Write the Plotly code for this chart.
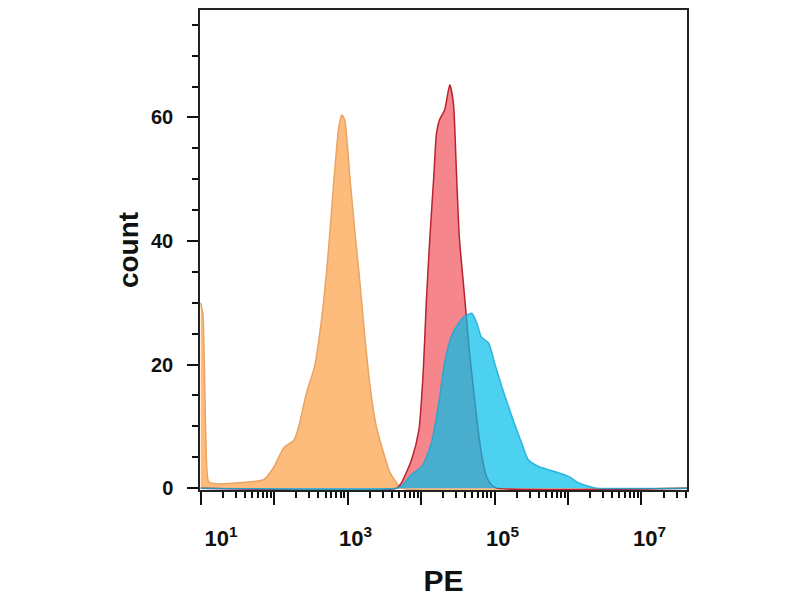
import plotly.graph_objects as go

# PE intensity as log10 exponent, and count per bin
orange_log = [1.00, 1.03, 1.07, 1.11, 1.22, 1.56, 1.86, 1.99, 2.13, 2.27, 2.33, 2.44, 2.55, 2.65,
              2.74, 2.81, 2.88, 2.92, 2.96, 3.03, 3.10, 3.16, 3.23, 3.30, 3.39, 3.49, 3.57, 3.67,
              3.73, 7.62]
orange_cnt = [30, 28, 8, 1.0, 0.7, 0.9, 1.4, 3.3, 6.5, 7.8, 9.8, 15.4, 19.7, 27.8,
              38.6, 49.4, 58.5, 60.4, 59.6, 50.4, 41.3, 34.2, 25.1, 17, 10, 5.7, 2.7, 0.8,
              0, 0]

red_log = [1.00, 3.67, 3.73, 3.87, 3.97, 4.03, 4.07, 4.12, 4.17, 4.21, 4.25, 4.32, 4.39, 4.44,
           4.48, 4.52, 4.58, 4.62, 4.66, 4.71, 4.76, 4.82, 4.89, 4.96, 5.03, 7.62]
red_cnt = [0, 0, 0.8, 4.6, 9.4, 19.1, 29.9, 40.7, 49.9, 57.5, 59.6, 61.2, 65.3, 62.3,
           51.5, 40.7, 32.6, 27.2, 21.8, 16.4, 11, 5.7, 1.9, 0.5, 0, 0]

blue_log = [1.00, 3.67, 3.73, 3.87, 4.01, 4.14, 4.24, 4.32, 4.41, 4.51, 4.59, 4.69, 4.76, 4.82,
            4.92, 5.00, 5.10, 5.19, 5.27, 5.37, 5.46, 5.60, 5.73, 5.87, 6.01, 6.14, 6.28, 6.39,
            7.62]
blue_cnt = [0, 0, 0.3, 2.2, 3.5, 7.3, 13.8, 20.3, 24.5, 26.7, 27.8, 28.3, 26.7, 24.5,
            23.5, 20.3, 16.4, 13.2, 10.5, 7.3, 4.6, 3.5, 3.0, 2.5, 1.9, 0.9, 0.3, 0,
            0]

tick_vals = [10, 100, 1000, 1e4, 1e5, 1e6, 1e7]
tick_text = ["\u00a0" * 4 + "10<sup>1</sup>", "", "10<sup>3</sup>", "", "10<sup>5</sup>", "", "10<sup>7</sup>"]

FONT = "Liberation Sans, Arial, sans-serif"

fig = go.Figure()

fig.add_trace(go.Scatter(x=[10 ** v for v in orange_log], y=orange_cnt, mode="lines",
                         line=dict(color="#e9a463", width=1.5, shape="spline", smoothing=0.6),
                         fill="tozeroy", fillcolor="#fdbb7c"))
fig.add_trace(go.Scatter(x=[10 ** v for v in red_log], y=red_cnt, mode="lines",
                         line=dict(color="#b8242c", width=1.5, shape="spline", smoothing=0.6),
                         fill="tozeroy", fillcolor="#f5868b"))
fig.add_trace(go.Scatter(x=[10 ** v for v in blue_log], y=blue_cnt, mode="lines",
                         line=dict(color="rgba(20,170,215,0.8)", width=1.5, shape="spline", smoothing=0.6),
                         fill="tozeroy", fillcolor="rgba(0,190,235,0.7)"))

# the page body adds an 8px offset, so margins are trimmed to land the frame at the right spot
fig.update_layout(
    width=800, height=600,
    margin=dict(l=192, r=121, t=2, b=118),
    paper_bgcolor="white", plot_bgcolor="white",
    showlegend=False,
    font=dict(family=FONT, color="#111111"),
)

fig.update_xaxes(
    type="log", range=[0.99, 7.62], automargin=False,
    tickmode="array", tickvals=tick_vals, ticktext=tick_text,
    ticks="outside", ticklen=13, tickwidth=2, tickcolor="#111111",
    minor=dict(ticks="outside", ticklen=6, tickwidth=1.5, tickcolor="#111111", dtick="D1"),
    showline=True, linecolor="#222222", linewidth=1.5, mirror=True,
    showgrid=False, zeroline=False,
    tickfont=dict(size=22, family=FONT, weight="bold"),
    ticklabelstandoff=15, ticklabelshift=8,
    title=dict(text="PE", font=dict(size=30, family=FONT, weight="bold"), standoff=20),
)

fig.update_yaxes(
    range=[-0.3, 77.4], automargin=False,
    tickmode="array", tickvals=[0, 20, 40, 60],
    ticks="outside", ticklen=11, tickwidth=2, tickcolor="#111111",
    minor=dict(ticks="outside", ticklen=6, tickwidth=1.5, tickcolor="#111111", dtick=5, tick0=0),
    showline=True, linecolor="#222222", linewidth=1.5, mirror=True,
    showgrid=False, zeroline=False,
    tickfont=dict(size=20, family=FONT, weight="bold"),
    ticklabelstandoff=10,
    title=dict(text="count", font=dict(size=28, family=FONT, weight="bold"), standoff=4),
)

fig.write_html("out.html")
